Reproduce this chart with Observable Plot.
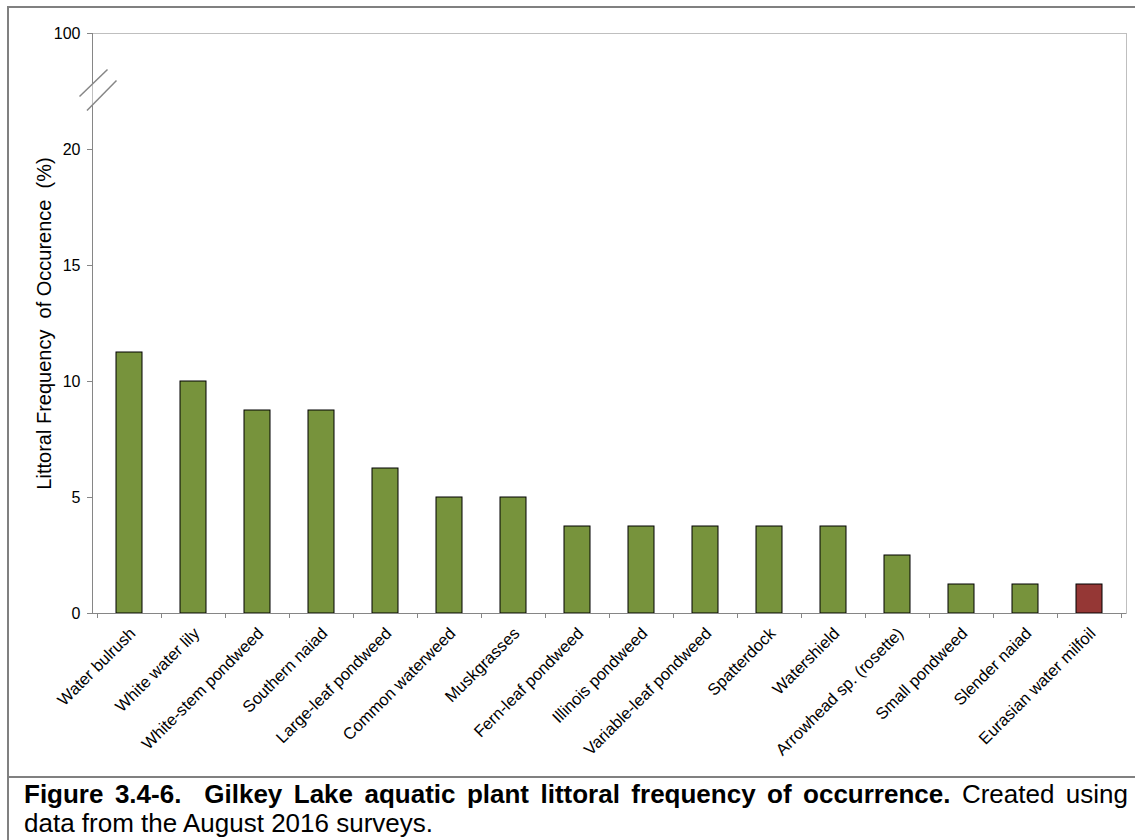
<!DOCTYPE html>
<html><head><meta charset="utf-8">
<script src="https://cdn.jsdelivr.net/npm/d3@7"></script>
<script src="https://cdn.jsdelivr.net/npm/@observablehq/plot@0.6"></script>
<style>
body{margin:0;background:#fff;}
#wrap{position:relative;width:1135px;height:840px;overflow:hidden;font-family:"Liberation Sans",Arial,sans-serif;background:#fff;}
#chart svg{position:absolute;left:0;top:0;}
.frame{position:absolute;left:7px;top:6px;width:1200px;height:900px;border-left:2px solid #808080;border-top:2px solid #808080;}
.sep{position:absolute;left:7px;top:776px;width:1200px;height:0;border-top:2px solid #808080;}
.cap{position:absolute;left:24px;top:780px;width:1104px;font-size:26px;line-height:29px;color:#000;}
.l1{text-align:justify;text-align-last:justify;}
</style></head>
<body>
<div id="wrap">
  <div class="frame"></div>
  <div id="chart"></div>
  <div class="sep"></div>
  <div class="cap">
    <div class="l1"><b>Figure 3.4-6.&nbsp; Gilkey Lake aquatic plant littoral frequency of occurrence.</b> Created using</div>
    <div>data from the August 2016 surveys.</div>
  </div>
</div>
<script>
const species = ["Water bulrush","White water lily","White-stem pondweed","Southern naiad","Large-leaf pondweed","Common waterweed","Muskgrasses","Fern-leaf pondweed","Illinois pondweed","Variable-leaf pondweed","Spatterdock","Watershield","Arrowhead sp. (rosette)","Small pondweed","Slender naiad","Eurasian water milfoil"];
const frequency = [11.25,10,8.75,8.75,6.25,5,5,3.75,3.75,3.75,3.75,3.75,2.5,1.25,1.25,1.25];
const status = ["native","native","native","native","native","native","native","native","native","native","native","native","native","native","native","exotic"];
const statusKeys = ["native","exotic"];
const statusColors = ["#77933C","#953735"];
const yTicks = [0,5,10,15,20,25];
const yTickLabels = ["0","5","10","15","20","100"];
const axisBreak = [21.9, 22.8];
const yTitle = "Littoral Frequency\u00a0 of Occurence\u00a0 (%)";

const data = species.map((s,i)=>({species:s, value:frequency[i], status:status[i]}));
const FONT = '"Liberation Sans", Arial, sans-serif';

function boundaryTicks(index, scales, values, dims) {
  const sx = scales.x;
  const dom = sx.domain();
  const step = sx.step(), bw = sx.bandwidth();
  const y0 = dims.height - dims.marginBottom;
  const g = d3.create("svg:g").attr("stroke","#868686").attr("stroke-width",1);
  const xs = dom.map(d => sx(d) - (step - bw)/2);
  xs.push(sx(dom[dom.length-1]) + bw + (step - bw)/2);
  for (const x of xs) {
    g.append("line").attr("x1",Math.round(x)+0.5).attr("x2",Math.round(x)+0.5).attr("y1",y0).attr("y2",y0+5);
  }
  return g.node();
}

function yAxisWithBreak(index, scales, values, dims) {
  const sy = scales.y;
  const x = dims.marginLeft + 0.5;
  const yLo = sy(axisBreak[0]), yHi = sy(axisBreak[1]);
  const yTop = sy(yTicks[yTicks.length-1]), yBot = sy(0);
  const g = d3.create("svg:g").attr("stroke","#868686").attr("fill","none");
  g.append("line").attr("x1",x).attr("x2",x).attr("y1",yBot).attr("y2",yLo).attr("stroke-width",1);
  g.append("line").attr("x1",x).attr("x2",x).attr("y1",yHi).attr("y2",yTop).attr("stroke-width",1);
  g.append("line").attr("x1",x-13).attr("y1",yHi+12.5).attr("x2",x+15).attr("y2",yHi-14.5).attr("stroke-width",1.5);
  g.append("line").attr("x1",x-5.5).attr("y1",yLo+5.5).attr("x2",x+24).attr("y2",yLo-24.5).attr("stroke-width",1.5);
  return g.node();
}

const chart = Plot.plot({
  width: 1135, height: 776,
  marginTop: 33, marginLeft: 92, marginRight: 9, marginBottom: 163,
  style: {fontFamily: FONT, fontSize: "16px", color: "#000", background: "transparent"},
  x: {domain: species, paddingInner: 0.6, paddingOuter: 0.3, axis: null},
  y: {domain: [0, 25]},
  color: {domain: statusKeys, range: statusColors},
  marks: [
    Plot.frame({stroke: "#bfbfbf"}),
    Plot.barY(data, {x: "species", y: "value", fill: "status", stroke: "#000", strokeWidth: 1}),
    Plot.ruleY([0], {stroke: "#868686"}),
    Plot.axisY({ticks: yTicks, tickFormat: d => yTickLabels[yTicks.indexOf(d)], tickSize: 5, tickPadding: 7, stroke: "#868686", fill: "#000", label: null, fontSize: 16}),
    yAxisWithBreak,
    boundaryTicks,
    Plot.text(species, {x: d => d, text: d => d, frameAnchor: "bottom", rotate: -45, textAnchor: "end", lineAnchor: "bottom", dx: 7, dy: 21, fontSize: 16.5, fill: "#000"}),
    Plot.text([yTitle], {text: d => d, frameAnchor: "left", textAnchor: "middle", rotate: -90, dx: -48, fontSize: 20, fill: "#000"})
  ]
});
document.getElementById("chart").appendChild(chart);
</script>
</body></html>
